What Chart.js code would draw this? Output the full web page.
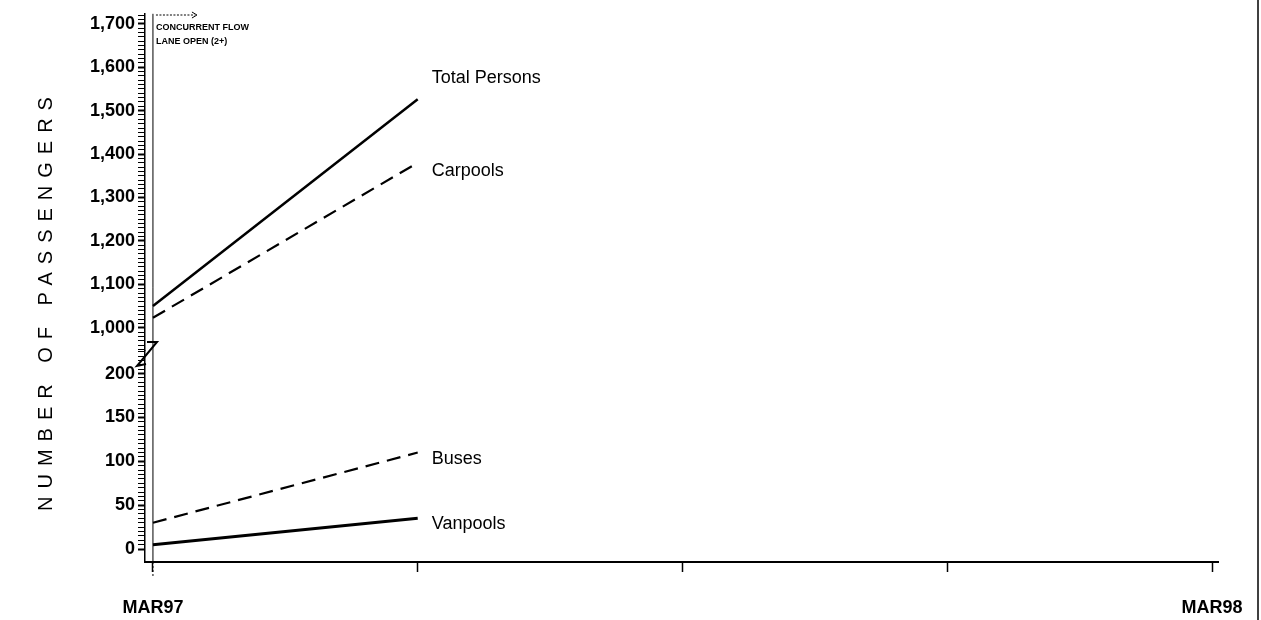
<!DOCTYPE html>
<html>
<head>
<meta charset="utf-8">
<script src="https://cdn.jsdelivr.net/npm/chart.js@4.4.1/dist/chart.umd.min.js"></script>
<style>
  html, body { margin: 0; padding: 0; background: #fff; }
  #wrap { width: 1261px; height: 620px; position: relative; }
</style>
</head>
<body>
<div id="wrap"><canvas id="chart"></canvas></div>
<script>
// months after MAR97 (MAR97, JUN97)
const monthOffsets = [0, 3];
const totalPersons = [1050, 1526];
const carpools = [1023, 1380];
const buses = [30, 110];
const vanpools = [5, 35];
const seriesNames = ["Total Persons", "Carpools", "Buses", "Vanpools"];
const lowerTicks = [0, 50, 100, 150, 200];
const upperTicks = [1000, 1100, 1200, 1300, 1400, 1500, 1600, 1700];
const xTicks = [0, 3, 6, 9, 12];
const xTickLabels = ["MAR97", "", "", "", "MAR98"];

const tickFont = { family: "'Liberation Sans', Arial, sans-serif", size: 18, weight: "bold" };
const labelFont = "18px 'Liberation Sans', Arial, sans-serif";

const points = (values) => values.map((v, i) => ({ x: monthOffsets[i], y: v }));

const datasets = [
    { label: seriesNames[0], data: points(totalPersons), yAxisID: "yHigh", borderWidth: 2.5, borderDash: [], labelDy: -21 },
    { label: seriesNames[1], data: points(carpools), yAxisID: "yHigh", borderWidth: 2.2, borderDash: [14, 8], labelDy: 8 },
    { label: seriesNames[2], data: points(buses), yAxisID: "yLow", borderWidth: 2.2, borderDash: [14, 8], labelDy: 6 },
    { label: seriesNames[3], data: points(vanpools), yAxisID: "yLow", borderWidth: 3, borderDash: [], labelDy: 6 }
].map(d => ({ ...d, borderColor: "#000", backgroundColor: "#000", pointRadius: 0, fill: false, tension: 0 }));

const minorTicks = (from, to, step) => {
    const out = [];
    for (let v = from; v <= to + 1e-9; v += step) {
        out.push({ value: v });
    }
    return out;
};

const decor = {
    id: "decor",
    afterDraw(chart) {
        const ctx = chart.ctx;
        const x = chart.scales.x;
        const area = chart.chartArea;
        ctx.save();
        ctx.strokeStyle = "#000";
        ctx.fillStyle = "#000";

        // scan frame at right
        ctx.lineWidth = 1.5;
        ctx.beginPath();
        ctx.moveTo(1258, 0);
        ctx.lineTo(1258, 620);
        ctx.stroke();

        // x axis runs a little past the last tick
        ctx.lineWidth = 2;
        ctx.beginPath();
        ctx.moveTo(area.right, area.bottom);
        ctx.lineTo(area.right + 7, area.bottom);
        ctx.stroke();

        // MAR97 marker line
        const x0 = x.getPixelForValue(0);
        ctx.lineWidth = 1;
        ctx.beginPath();
        ctx.moveTo(x0, area.top);
        ctx.lineTo(x0, area.bottom);
        ctx.stroke();
        ctx.setLineDash([2, 2]);
        ctx.beginPath();
        ctx.moveTo(x0, area.bottom);
        ctx.lineTo(x0, area.bottom + 15);
        ctx.stroke();

        // arrow + note
        ctx.setLineDash([2, 1.5]);
        ctx.beginPath();
        ctx.moveTo(x0 + 3, 15);
        ctx.lineTo(x0 + 42, 15);
        ctx.stroke();
        ctx.setLineDash([]);
        ctx.beginPath();
        ctx.moveTo(x0 + 39, 12);
        ctx.lineTo(x0 + 44, 15);
        ctx.lineTo(x0 + 39, 18);
        ctx.stroke();
        ctx.font = "bold 9px 'Liberation Sans', Arial, sans-serif";
        ctx.textBaseline = "middle";
        ctx.textAlign = "left";
        ctx.fillText("CONCURRENT FLOW", x0 + 3, 28);
        ctx.fillText("LANE OPEN (2+)", x0 + 3, 42);

        // axis break mark
        ctx.lineWidth = 2;
        ctx.beginPath();
        ctx.moveTo(147, 342);
        ctx.lineTo(157, 342);
        ctx.lineTo(137, 366);
        ctx.lineTo(146, 364);
        ctx.stroke();

        // series labels at line ends
        ctx.font = labelFont;
        chart.data.datasets.forEach((ds, i) => {
            const meta = chart.getDatasetMeta(i);
            const last = meta.data[meta.data.length - 1];
            ctx.fillText(ds.label, last.x + 14, last.y + ds.labelDy);
        });

        // y title
        ctx.translate(46, 300);
        ctx.rotate(-Math.PI / 2);
        ctx.font = "20px 'Liberation Sans', Arial, sans-serif";
        ctx.letterSpacing = "8px";
        ctx.textAlign = "center";
        ctx.fillText("NUMBER OF PASSENGERS", 0, 0);
        ctx.restore();
    }
};

const yAxis = (majors, extra) => ({
    type: "linear",
    position: "left",
    stack: "y",
    border: { display: true, color: "#000", width: 1.5 },
    grid: {
        drawOnChartArea: false,
        drawTicks: true,
        tickLength: 7,
        tickColor: "#000",
        tickWidth: (c) => majors.includes(c.tick && c.tick.value) ? 2 : 1
    },
    ticks: {
        autoSkip: false,
        color: "#000",
        font: tickFont,
        padding: 3,
        callback: (v) => majors.includes(v) ? v.toLocaleString("en-US") : ""
    },
    afterFit: (s) => { s.width = 145; },
    ...extra
});

new Chart(document.getElementById("chart"), {
    type: "line",
    data: { datasets },
    options: {
        responsive: true,
        maintainAspectRatio: false,
        animation: false,
        layout: { autoPadding: false, padding: { top: 12, right: 49, left: 0, bottom: 0 } },
        plugins: { legend: { display: false }, tooltip: { enabled: false } },
        scales: {
            x: {
                type: "linear",
                min: -0.09,
                max: 12,
                border: { display: true, color: "#000", width: 2 },
                grid: { drawOnChartArea: false, drawTicks: true, tickLength: 10, tickColor: "#000", tickWidth: 1.5 },
                afterBuildTicks: (s) => { s.ticks = xTicks.map(v => ({ value: v })); },
                ticks: {
                    autoSkip: false,
                    maxRotation: 0,
                    color: "#000",
                    font: tickFont,
                    padding: 25,
                    callback: (v) => xTickLabels[xTicks.indexOf(v)] || ""
                },
                afterFit: (s) => {
                    s.height = 58;
                    s.paddingLeft = 0;
                    s.paddingRight = 0;
                }
            },
            yLow: yAxis(lowerTicks, {
                min: -14.8,
                max: 226.1,
                stackWeight: 212,
                afterBuildTicks: (s) => { s.ticks = minorTicks(0, 225, 5); }
            }),
            yHigh: yAxis(upperTicks, {
                min: 947.2,
                max: 1723,
                stackWeight: 338,
                afterBuildTicks: (s) => { s.ticks = minorTicks(950, 1720, 10); }
            })
        }
    },
    plugins: [decor]
});
</script>
</body>
</html>
